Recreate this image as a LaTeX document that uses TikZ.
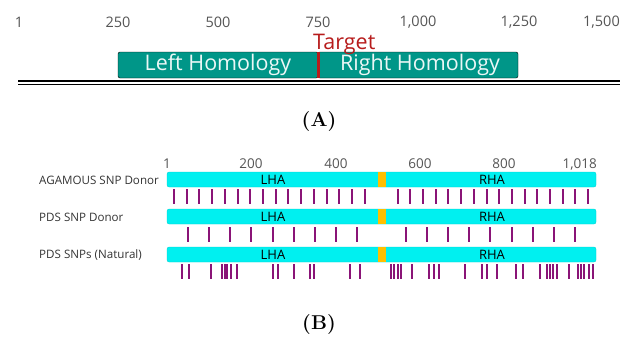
\documentclass[tikz,border=0pt]{standalone}
\usepackage{fontspec}
\newfontfamily\diagfont{Open Sans}
\tikzset{>=stealth}
\definecolor{homteal}{HTML}{009688}
\definecolor{targetred}{HTML}{B71C1C}
\definecolor{armcyan}{HTML}{00F0F0}
\definecolor{cutgold}{HTML}{FFBF00}
\definecolor{snppurple}{HTML}{8A1477}
\definecolor{scalegray}{HTML}{555555}
\tikzset{
    scaleA/.style={font=\diagfont\fontsize{14.5}{16}\selectfont, text=scalegray},
    scaleB/.style={font=\diagfont\fontsize{13.5}{15}\selectfont, text=scalegray},
    hombox/.style={fill=homteal, rounded corners=2pt},
    homtext/.style={font=\diagfont\fontsize{21.5}{23}\selectfont, text=white!92!homteal},
    rowlabel/.style={font=\diagfont\fontsize{11.6}{13}\selectfont, text=black!80, anchor=west},
    armbar/.style={fill=armcyan, draw=armcyan!85!black, line width=0.3pt, rounded corners=2pt},
    armtext/.style={font=\diagfont\fontsize{13}{15}\selectfont, text=black},
    snp/.style={draw=snppurple, line width=2pt},
    panel/.style={font=\rmfamily\bfseries\fontsize{20}{22}\selectfont}
}
\usetikzlibrary{calc}

\begin{document}
\begin{tikzpicture}[x=1pt, y=-1pt, every node/.style={inner sep=0pt}]
    \useasboundingbox (0,0) rectangle (620,338);
    % (A) target locus with homology arms
    \node [scaleA] (a1) at (19,22) {1};
    \node [scaleA] (a250) at (118,22) {250};
    \node [scaleA] (a500) at (218,22) {500};
    \node [scaleA] (a750) at (318,22) {750};
    \node [scaleA] (a1000) at (418,22) {1,000};
    \node [scaleA] (a1250) at (519,22) {1,250};
    \node [scaleA, anchor=east] (a1500) at (620,22) {1,500};
    \draw [hombox] (118,52) rectangle (318,78);
    \draw [hombox] (318,52) rectangle (518,78);
    \node [homtext] (lhom) at (218,65) {Left Homology};
    \node [homtext] (rhom) at (420,65) {Right Homology};
    \draw [targetred, line width=3pt] (318,52) -- (318,78);
    \node [anchor=west, text=targetred, font=\diagfont\fontsize{21.5}{23}\selectfont] (target) at (313,44) {Target};
    \draw [line width=1.1pt] (18,81) -- (620,81);
    \draw [line width=1.1pt] (18,84.5) -- (620,84.5);
    \node [panel] (panA) at (319,122) {(A)};
    % (B) donor arms and SNP positions
    \node [scaleB] (b1) at (167,164) {1};
    \node [scaleB] (b200) at (251,164) {200};
    \node [scaleB] (b400) at (336,164) {400};
    \node [scaleB] (b600) at (420,164) {600};
    \node [scaleB] (b800) at (504,164) {800};
    \node [scaleB, anchor=east] (b1018) at (597,164) {1,018};
    % AGAMOUS donor
    \node [rowlabel] (agdon) at (39,180) {AGAMOUS SNP Donor};
    \draw [armbar] (167,172) rectangle (596,187);
    \fill [cutgold] (378,172) rectangle (386,187);
    \node [armtext] (lha1) at (273,179.5) {LHA};
    \node [armtext] (rha1) at (492,179.5) {RHA};
    \foreach \i in {0,...,15} {
        \draw [snp] ({174+12.71*\i},189) -- ++(0,15);
        \draw [snp] ({397.7+12.69*\i},189) -- ++(0,15);
    }
    % PDS donor
    \node [rowlabel] (pdsdon) at (39,217) {PDS SNP Donor};
    \draw [armbar] (167,209) rectangle (596,224);
    \fill [cutgold] (378,209) rectangle (386,224);
    \node [armtext] (lha2) at (273,216.5) {LHA};
    \node [armtext] (rha2) at (492,216.5) {RHA};
    \foreach \i in {0,...,8} {
        \draw [snp] ({188.3+21.05*\i},227) -- ++(0,15);
        \draw [snp] ({406+21.12*\i},227) -- ++(0,15);
    }
    % PDS natural SNPs
    \node [rowlabel] (pdsnat) at (39,255) {PDS SNPs (Natural)};
    \draw [armbar] (167,247) rectangle (596,262);
    \fill [cutgold] (378,247) rectangle (386,262);
    \node [armtext] (lha3) at (273,254.5) {LHA};
    \node [armtext] (rha3) at (492,254.5) {RHA};
    \foreach \x in {182,189,210.7,222,224.5,227,231,237,272.7,277.5,294,309.5,313.5,349.5,360,
        391,394,397.5,401,411.7,429.3,434,439,465,481.7,486.5,496.5,516,523.3,
        540,546.5,549.5,552.5,557,568.5,578,581,584,589,593}
        \draw [snp] (\x,264) -- ++(0,15);
    \node [panel] (panB) at (319,325) {(B)};
\end{tikzpicture}
\end{document}
